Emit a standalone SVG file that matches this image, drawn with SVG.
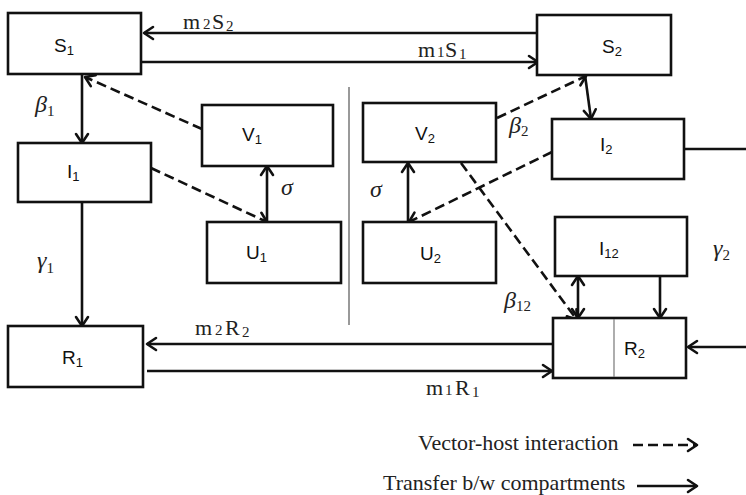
<svg xmlns="http://www.w3.org/2000/svg" width="746" height="495" viewBox="0 0 746 495">
<defs>
<marker id="ah" markerWidth="14" markerHeight="16" refX="12" refY="8" orient="auto-start-reverse" markerUnits="userSpaceOnUse" viewBox="0 0 14 16">
<path d="M3,2 L12,8 L3,14" fill="none" stroke="#111" stroke-width="2.6" stroke-linecap="round" stroke-linejoin="round"/>
</marker>
<style>
.box{fill:#fff;stroke:#111;stroke-width:2.6}
.lbl{font-family:"Liberation Sans",Arial,sans-serif;font-size:19px;fill:#111}
.sub{font-size:13px}
.ln{fill:none;stroke:#111;stroke-width:2.6}
.ar{marker-end:url(#ah)}
.dash{stroke-dasharray:10,5}
.math{font-family:"Liberation Serif","Times New Roman",serif;font-size:22px;fill:#222}
.math.msub{font-size:15px}
.greek{font-family:"Liberation Serif","Times New Roman",serif;font-style:italic;font-size:24px;fill:#222}
.gsub{font-style:normal;font-size:15px}
.leg{font-family:"Liberation Serif","Times New Roman",serif;font-size:22px;fill:#222}
</style>
</defs>
<rect width="746" height="495" fill="#fff"/>

<g id="connectors">
<line class="ln ar" x1="537" y1="33" x2="144" y2="33"/>
<line class="ln ar" x1="141" y1="62" x2="538" y2="62"/>
<line class="ln ar" x1="82" y1="74" x2="82" y2="143"/>
<line class="ln ar dash" x1="202" y1="129" x2="85" y2="77"/>
<line class="ln ar dash" x1="151" y1="168" x2="267" y2="222"/>
<line class="ln ar" x1="267" y1="222" x2="267" y2="166"/>
<line class="ln ar" x1="82" y1="202" x2="82" y2="326"/>
<line class="ln ar" x1="553" y1="344" x2="147" y2="344"/>
<line class="ln ar" x1="147" y1="371" x2="552" y2="371"/>
<line class="ln ar" x1="746" y1="347" x2="688" y2="347"/>
<line class="ln ar" x1="578" y1="276" x2="578" y2="318" marker-start="url(#ah)"/>
<line class="ln ar" x1="660" y1="276" x2="660" y2="318"/>
<line class="ln ar dash" x1="461" y1="163" x2="577" y2="320"/>
<line class="ln ar dash" x1="497" y1="118" x2="586" y2="76"/>
<line class="ln ar" x1="585" y1="75" x2="591" y2="119"/>
<line class="ln" x1="684" y1="149" x2="746" y2="149"/>
<line class="ln ar dash" x1="552" y1="152" x2="409" y2="222"/>
<line class="ln ar" x1="408" y1="222" x2="408" y2="163"/>
<line x1="349" y1="87" x2="349" y2="325" stroke="#555" stroke-width="1.2"/>
</g>

<g id="S1"><rect class="box" x="8" y="13" width="133" height="61"/><text class="lbl" x="54" y="52">S<tspan class="sub" dy="3">1</tspan></text></g>
<g id="S2"><rect class="box" x="537" y="15" width="134" height="60"/><text class="lbl" x="602" y="53">S<tspan class="sub" dy="3">2</tspan></text></g>
<g id="I1"><rect class="box" x="18" y="143" width="133" height="59"/><text class="lbl" x="67" y="178">I<tspan class="sub" dy="3">1</tspan></text></g>
<g id="V1"><rect class="box" x="202" y="105" width="131" height="61"/><text class="lbl" x="242" y="141">V<tspan class="sub" dy="3">1</tspan></text></g>
<g id="U1"><rect class="box" x="207" y="222" width="134" height="61"/><text class="lbl" x="246" y="259">U<tspan class="sub" dy="3">1</tspan></text></g>
<g id="R1"><rect class="box" x="8" y="326" width="135" height="61"/><text class="lbl" x="62" y="364">R<tspan class="sub" dy="3">1</tspan></text></g>
<g id="V2"><rect class="box" x="363" y="103" width="133" height="59"/><text class="lbl" x="415" y="140">V<tspan class="sub" dy="3">2</tspan></text></g>
<g id="U2"><rect class="box" x="363" y="222" width="133" height="61"/><text class="lbl" x="420" y="260">U<tspan class="sub" dy="3">2</tspan></text></g>
<g id="I2"><rect class="box" x="552" y="119" width="132" height="60"/><text class="lbl" x="600" y="151">I<tspan class="sub" dy="3">2</tspan></text></g>
<g id="I12"><rect class="box" x="555" y="217" width="132" height="59"/><text class="lbl" x="599" y="255">I<tspan class="sub" dy="3">12</tspan></text></g>
<g id="R2"><rect class="box" x="553" y="318" width="133" height="60"/><line x1="614" y1="319" x2="614" y2="377" stroke="#777" stroke-width="1.2"/><text class="lbl" x="624" y="355">R<tspan class="sub" dy="3">2</tspan></text></g>

<g id="labels">
<text class="math" x="183" y="29">m</text><text class="math msub" x="203" y="29">2</text><text class="math" x="212" y="29">S</text><text class="math msub" x="226" y="31">2</text>
<text class="math" x="418" y="57">m</text><text class="math msub" x="437" y="57">1</text><text class="math" x="445" y="57">S</text><text class="math msub" x="459" y="59">1</text>
<text class="math" x="195" y="335">m</text><text class="math msub" x="215" y="335">2</text><text class="math" x="225" y="335">R</text><text class="math msub" x="242" y="337">2</text>
<text class="math" x="426" y="395">m</text><text class="math msub" x="445" y="395">1</text><text class="math" x="455" y="395">R</text><text class="math msub" x="472" y="397">1</text>
<text class="greek" x="35" y="112">β<tspan class="gsub" dy="4">1</tspan></text>
<text class="greek" x="37" y="268">γ<tspan class="gsub" dy="5">1</tspan></text>
<text class="greek" x="281" y="195">σ</text>
<text class="greek" x="370" y="197">σ</text>
<text class="greek" x="509" y="133">β<tspan class="gsub" dy="3">2</tspan></text>
<text class="greek" x="504" y="308">β<tspan class="gsub" dy="3">12</tspan></text>
<text class="greek" x="713" y="256">γ<tspan class="gsub" dy="4">2</tspan></text>
</g>

<g id="legend">
<text class="leg" x="418" y="450">Vector-host interaction</text>
<line class="ln ar dash" x1="633" y1="445" x2="697" y2="445"/>
<text class="leg" x="383" y="490">Transfer b/w compartments</text>
<line class="ln ar" x1="637" y1="486" x2="697" y2="486"/>
</g>
</svg>
